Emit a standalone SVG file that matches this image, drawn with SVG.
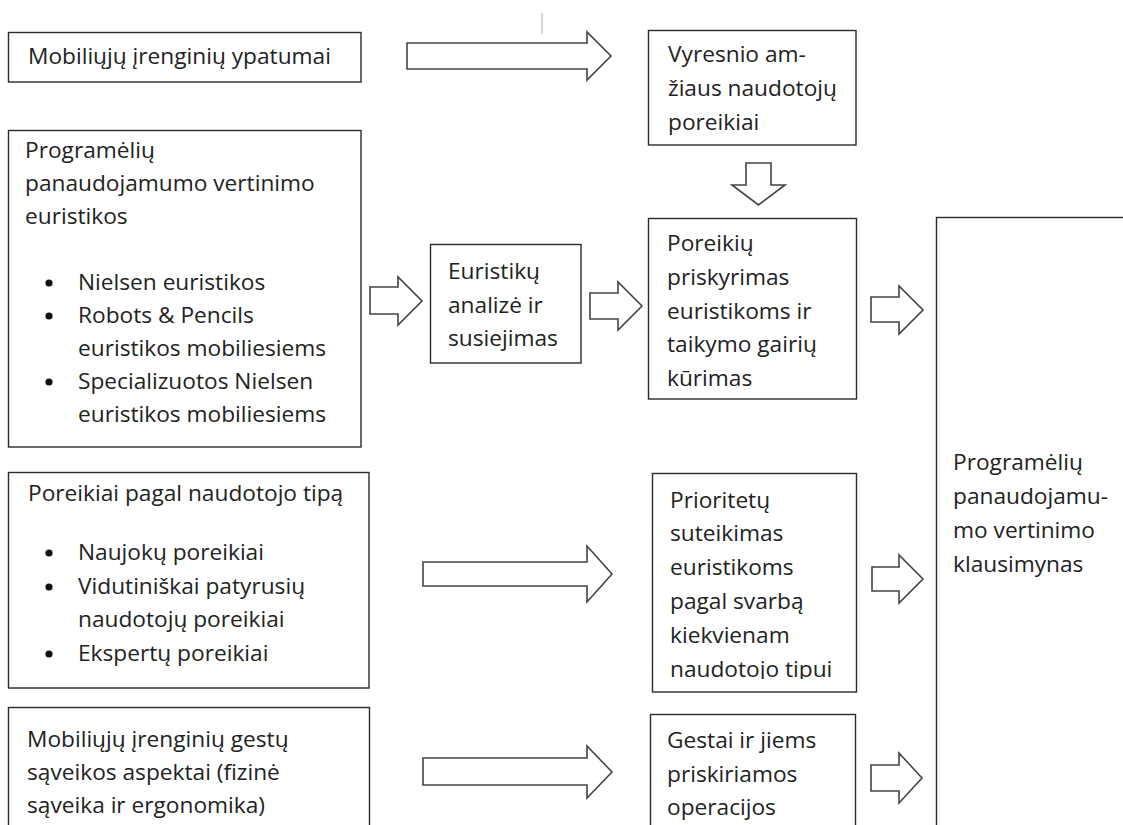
<svg xmlns="http://www.w3.org/2000/svg" width="1123" height="825" viewBox="0 0 1123 825">
<style>
.box{fill:#fff;stroke:#2b2b2b;stroke-width:1.4}
.arr{fill:#fff;stroke:#444;stroke-width:1.6;stroke-linejoin:miter}
.t{font-family:'Open Sans','Noto Sans',sans-serif;font-size:22.7px;fill:#222}
.dot{fill:#111}
</style>
<defs>
<clipPath id="clipPrio"><rect x="652" y="473" width="205" height="206"/></clipPath>
</defs>
<rect width="1123" height="825" fill="#fff"/>
<line x1="542" y1="13" x2="542" y2="34" stroke="#aaa" stroke-width="1"/>

<g id="n-mob-ypatumai">
<rect class="box" x="8.5" y="32.5" width="352.5" height="49.5"/>
<text class="t" x="28" y="64">Mobiliųjų įrenginių ypatumai</text>
</g>

<g id="n-vyresnio">
<rect class="box" x="648.5" y="30.5" width="207.5" height="114.5"/>
<text class="t" x="668" y="62">Vyresnio am-</text>
<text class="t" x="668" y="96">žiaus naudotojų</text>
<text class="t" x="668" y="130">poreikiai</text>
</g>

<g id="n-euristikos">
<rect class="box" x="8.5" y="130.5" width="352.5" height="316.5"/>
<text class="t" x="25" y="158">Programėlių</text>
<text class="t" x="25" y="191">panaudojamumo vertinimo</text>
<text class="t" x="25" y="224">euristikos</text>
<circle class="dot" cx="49" cy="283" r="3.6"/>
<text class="t" x="78" y="290">Nielsen euristikos</text>
<circle class="dot" cx="49" cy="316" r="3.6"/>
<text class="t" x="78" y="323">Robots &amp; Pencils</text>
<text class="t" x="78" y="356">euristikos mobiliesiems</text>
<circle class="dot" cx="49" cy="382" r="3.6"/>
<text class="t" x="78" y="389">Specializuotos Nielsen</text>
<text class="t" x="78" y="422">euristikos mobiliesiems</text>
</g>

<g id="n-analize">
<rect class="box" x="430.5" y="244.5" width="150.5" height="118.5"/>
<text class="t" x="448" y="279">Euristikų</text>
<text class="t" x="448" y="313">analizė ir</text>
<text class="t" x="448" y="346">susiejimas</text>
</g>

<g id="n-priskyrimas">
<rect class="box" x="648.5" y="218.5" width="208" height="180.5"/>
<text class="t" x="667" y="251">Poreikių</text>
<text class="t" x="667" y="285">priskyrimas</text>
<text class="t" x="667" y="319">euristikoms ir</text>
<text class="t" x="667" y="352">taikymo gairių</text>
<text class="t" x="667" y="386">kūrimas</text>
</g>

<g id="n-klausimynas">
<rect class="box" x="936.5" y="217.5" width="200" height="620"/>
<text class="t" x="953" y="470">Programėlių</text>
<text class="t" x="953" y="504">panaudojamu-</text>
<text class="t" x="953" y="538">mo vertinimo</text>
<text class="t" x="953" y="572">klausimynas</text>
</g>

<g id="n-tipai">
<rect class="box" x="8.5" y="472.5" width="360.5" height="215.5"/>
<text class="t" x="28" y="501">Poreikiai pagal naudotojo tipą</text>
<circle class="dot" cx="49" cy="553" r="3.6"/>
<text class="t" x="78" y="560">Naujokų poreikiai</text>
<circle class="dot" cx="49" cy="587" r="3.6"/>
<text class="t" x="78" y="594">Vidutiniškai patyrusių</text>
<text class="t" x="78" y="627">naudotojų poreikiai</text>
<circle class="dot" cx="49" cy="654" r="3.6"/>
<text class="t" x="78" y="661">Ekspertų poreikiai</text>
</g>

<g id="n-prioritetai">
<rect class="box" x="652.5" y="473.5" width="204" height="218.5"/>
<g clip-path="url(#clipPrio)">
<text class="t" x="670" y="508">Prioritetų</text>
<text class="t" x="670" y="541">suteikimas</text>
<text class="t" x="670" y="575">euristikoms</text>
<text class="t" x="670" y="609">pagal svarbą</text>
<text class="t" x="670" y="643">kiekvienam</text>
<text class="t" x="670" y="677">naudotojo tipui</text>
</g>
</g>

<g id="n-gestai-aspektai">
<rect class="box" x="8.5" y="707.5" width="361" height="130"/>
<text class="t" x="27" y="747">Mobiliųjų įrenginių gestų</text>
<text class="t" x="27" y="780">sąveikos aspektai (fizinė</text>
<text class="t" x="27" y="813">sąveika ir ergonomika)</text>
</g>

<g id="n-gestai">
<rect class="box" x="650.5" y="714.5" width="205" height="130"/>
<text class="t" x="667" y="748">Gestai ir jiems</text>
<text class="t" x="667" y="782">priskiriamos</text>
<text class="t" x="667" y="815">operacijos</text>
</g>

<g id="connectors">
<path class="arr" d="M407 43 H587 V32 L611 56 L587 80 V69 H407 Z"/>
<path class="arr" d="M746 163 V185 H732 L758.5 205 L785 185 H771 V163 Z"/>
<path class="arr" d="M370 287 H398 V277 L422 301 L398 325 V314 H370 Z"/>
<path class="arr" d="M590 293 H618 V282 L642 306 L618 330 V319 H590 Z"/>
<path class="arr" d="M871 297 H899 V286 L923 310 L899 334 V322 H871 Z"/>
<path class="arr" d="M423 562 H587 V546 L612 574 L587 602 V586 H423 Z"/>
<path class="arr" d="M872 567 H899 V555 L923 579 L899 603 V591 H872 Z"/>
<path class="arr" d="M423 758 H587 V746 L612 772 L587 798 V785 H423 Z"/>
<path class="arr" d="M871 765 H899 V753 L922 778 L899 803 V791 H871 Z"/>
</g>
</svg>
